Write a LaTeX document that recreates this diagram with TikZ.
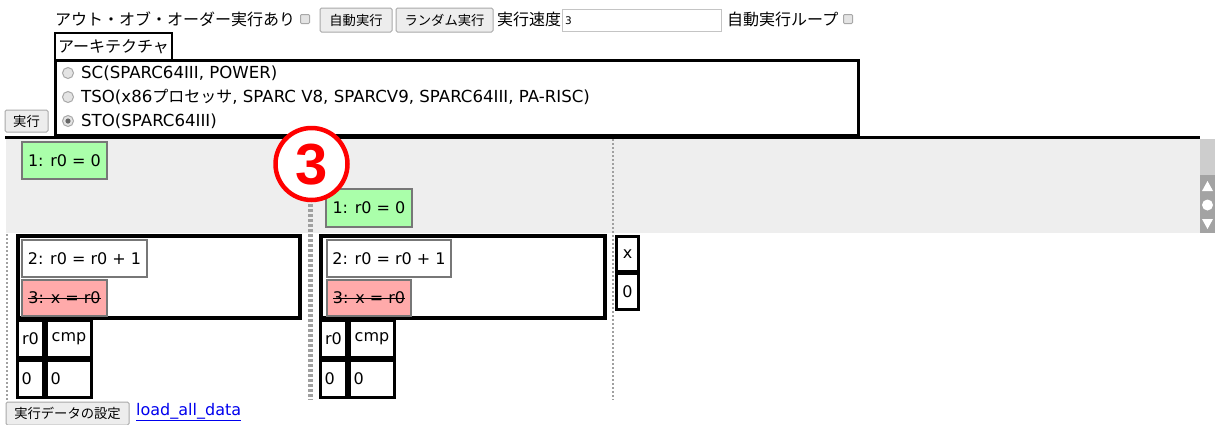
\documentclass[tikz,border=0pt]{standalone}
\usepackage{fontspec}
\setmainfont{DejaVu Sans}
\newfontfamily\jp{Noto Sans CJK JP}
\newfontfamily\numfont{Liberation Sans}
\newcommand\mystrike[1]{\sbox0{#1}\rlap{\usebox0}\rule[0.3em]{\wd0}{0.07em}}
\definecolor{btnb}{HTML}{A9A9A9}
\definecolor{btnf}{HTML}{EDEDED}
\definecolor{chkb}{HTML}{A8A8A8}
\definecolor{chkf}{HTML}{E4E4E4}
\definecolor{band}{HTML}{EEEEEE}
\definecolor{grn}{HTML}{AAFFAA}
\definecolor{pnk}{HTML}{FFAAAA}
\definecolor{ibord}{HTML}{777777}
\definecolor{dotc}{HTML}{A0A0A0}
\definecolor{sbl}{HTML}{CDCDCD}
\definecolor{sbd}{HTML}{A3A3A3}
\definecolor{linkc}{HTML}{0000EE}
\definecolor{inb}{HTML}{C4C4C4}
\tikzset{
  txt/.style={inner sep=0pt, anchor=west, font=\fontsize{16}{16}\selectfont},
  rtxt/.style={inner sep=0pt, anchor=west, font=\fontsize{16.6}{17}\selectfont},
  btn/.style={draw=btnb, fill=btnf, line width=1pt, rounded corners=1.5pt, inner sep=0pt,
    font=\jp\fontsize{13.3}{14}\selectfont},
  chk/.style={draw=chkb, fill=chkf, line width=1pt, minimum size=9pt, inner sep=0pt, rounded corners=1pt},
  radio/.style={circle, draw=chkb, fill=chkf, line width=1pt, minimum size=11pt, inner sep=0pt},
  blkbox/.style={draw=black, line width=4pt, fill=white, inner sep=0pt},
  instr/.style={draw=ibord, line width=2pt, inner sep=0pt, font=\fontsize{16}{16}\selectfont},
  cell/.style={draw=black, line width=3pt, fill=white, inner sep=0pt, font=\fontsize{16}{16}\selectfont},
  dotthin/.style={draw=dotc, line width=2pt, dash pattern=on 2pt off 2pt},
  dotthick/.style={draw=dotc, line width=5pt, dash pattern=on 3pt off 2pt},
}
\begin{document}
\begin{tikzpicture}[x=1pt,y=-1pt]
\useasboundingbox (0,0) rectangle (1215,424);
\fill[white] (0,0) rectangle (1215,424);
% top row
\node[txt, font=\jp\fontsize{16}{16}\selectfont] (ooo) at (55,19) {アウト・オブ・オーダー実行あり};
\node[chk] (cb1) at (305,19) {};
\node[btn, minimum width=72pt, minimum height=24pt] (auto) at (356,20) {自動実行};
\node[btn, minimum width=97pt, minimum height=24pt] (rand) at (444.5,20) {ランダム実行};
\node[txt, font=\jp\fontsize{16}{16}\selectfont] (speed) at (497,19) {実行速度};
\node[draw=inb, line width=1pt, fill=white, minimum width=159pt, minimum height=22pt, inner sep=0pt] (inp) at (641.5,20) {};
\node[inner sep=0pt, anchor=west, font=\fontsize{10.5}{11}\selectfont] (inpv) at (565,20.5) {3};
\node[txt, font=\jp\fontsize{16}{16}\selectfont] (loop) at (727,19) {自動実行ループ};
\node[chk] (cb2) at (848,19) {};
% architecture
\node[blkbox, line width=2.5pt, minimum width=117pt, minimum height=27pt, font=\jp\fontsize{16}{16}\selectfont] (arch) at (113.5,46.5) {アーキテクチャ};
\node[blkbox, line width=3pt, minimum width=803pt, minimum height=75pt] (rbox) at (456.5,97.5) {};
\node[radio] (r1) at (68,73) {};
\node[radio] (r2) at (68,97) {};
\node[radio] (r3) at (68,121) {};
\fill[black!60] (r3.center) circle (2.6pt);
\node[rtxt] (t1) at (81,73) {SC(SPARC64III, POWER)};
\node[rtxt] (t2) at (81,97) {TSO(x86{\jp\fontsize{16}{17}\selectfont プロセッサ}, SPARC V8, SPARCV9, SPARC64III, PA-RISC)};
\node[rtxt] (t3) at (81,121) {STO(SPARC64III)};
\node[btn, minimum width=43pt, minimum height=22pt] (run) at (26.5,121) {実行};
% separator line and band
\coordinate (ls) at (5,137);
\coordinate (le) at (1200,137);
\draw[line width=3pt] (ls) -- (le);
\fill[band] (6,139) rectangle (1200,233);
% scrollbar
\fill[sbl] (1200,138.5) rectangle (1215,175);
\fill[sbd] (1200,175) rectangle (1215,233);
\fill[white] (1202,191) -- (1213,191) -- (1207.5,181) -- cycle;
\fill[white] (1207.5,205) circle (5.5pt);
\fill[white] (1202,219) -- (1213,219) -- (1207.5,229) -- cycle;
% dotted separators
\coordinate (d1a) at (7,234);   \coordinate (d1b) at (7,400);
\coordinate (d2a) at (310,139); \coordinate (d2b) at (310,400);
\coordinate (d3a) at (613,139); \coordinate (d3b) at (613,400);
\draw[dotthin] (d1a) -- (d1b);
\draw[dotthick] (d2a) -- (d2b);
\draw[dotthin] (d3a) -- (d3b);
% green instructions in the band
\node[instr, fill=grn, minimum width=85pt, minimum height=37pt] (g1) at (64.5,160.5) {1: r0 = 0};
\node[instr, fill=grn, minimum width=86pt, minimum height=38pt] (g2) at (369,207.5) {1: r0 = 0};
% column 1
\node[blkbox, minimum width=282pt, minimum height=82pt] (c1) at (159,277) {};
\node[instr, fill=white, minimum width=125pt, minimum height=37pt] (i1) at (84.5,258.5) {2: r0 = r0 + 1};
\node[instr, fill=pnk, minimum width=85pt, minimum height=36pt] (p1) at (64.5,298) {\mystrike{3: x = r0}};
\node[cell, minimum width=26pt, minimum height=37pt] (ra1) at (30.5,339) {r0};
\node[cell, minimum width=45pt, minimum height=37pt] (rb1) at (69,339) {cmp};
\node[cell, minimum width=26pt, minimum height=37pt, text width=18pt, align=left] (va1) at (30.5,379) {0};
\node[cell, minimum width=45pt, minimum height=37pt, text width=37pt, align=left] (vb1) at (69,379) {0};
% column 2
\node[blkbox, minimum width=284pt, minimum height=82pt] (c2) at (462.5,277) {};
\node[instr, fill=white, minimum width=124pt, minimum height=37pt] (i2) at (389,258.5) {2: r0 = r0 + 1};
\node[instr, fill=pnk, minimum width=84pt, minimum height=36pt] (p2) at (369,298) {\mystrike{3: x = r0}};
\node[cell, minimum width=26pt, minimum height=37pt] (ra2) at (333.5,339) {r0};
\node[cell, minimum width=45pt, minimum height=37pt] (rb2) at (372,339) {cmp};
\node[cell, minimum width=26pt, minimum height=37pt, text width=18pt, align=left] (va2) at (333.5,379) {0};
\node[cell, minimum width=45pt, minimum height=37pt, text width=37pt, align=left] (vb2) at (372,379) {0};
% memory
\node[cell, minimum width=22pt, minimum height=35pt] (mx) at (627.5,254) {x};
\node[cell, minimum width=22pt, minimum height=36pt] (m0) at (627.5,291.5) {0};
% bottom
\node[btn, minimum width=123pt, minimum height=23pt] (setdata) at (67.5,413.5) {実行データの設定};
\node[txt, text=linkc] (link) at (136,412) {\underline{load\_all\_data}};
% annotation 3
\node[circle, draw=red, line width=4.5pt, fill=white, minimum size=72pt, inner sep=0pt] (ann) at (311.5,164) {};
\node[inner sep=0pt, text=red, font=\numfont\bfseries\fontsize{58}{58}\selectfont] (annt) at (311.5,165) {3};
\end{tikzpicture}
\end{document}
